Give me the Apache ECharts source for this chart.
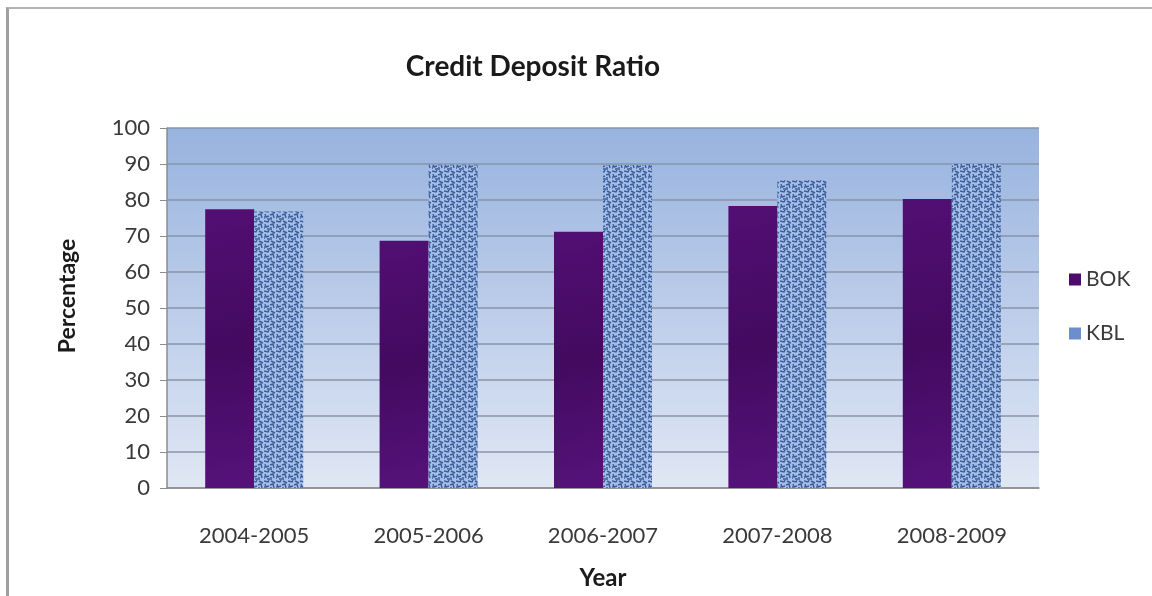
<!DOCTYPE html>
<html>
<head>
<meta charset="utf-8">
<script src="https://cdn.jsdelivr.net/npm/echarts@6/dist/echarts.min.js"></script>
<style>
  html, body { margin: 0; padding: 0; background: #fff; }
  #frame { position: absolute; left: 6px; top: 7px; width: 1146px; height: 589px;
           border-left: 3px solid #a0a0a0; border-top: 2px solid #b4b4b4; box-sizing: border-box; }
  #chart { position: absolute; left: 0; top: 0; width: 1152px; height: 596px; }
</style>
</head>
<body>
<div id="frame"></div>
<div id="chart"></div>
<script>
// chart data
var years = ['2004-2005', '2005-2006', '2006-2007', '2007-2008', '2008-2009'];
var bok = [77.4, 68.7, 71.2, 78.3, 80.3];
var kbl = [76.8, 89.8, 89.7, 85.5, 90.0];

// scribbled texture for the KBL bars
function makeTexture() {
  var c = document.createElement('canvas');
  c.width = 12; c.height = 10;
  var g = c.getContext('2d');
  g.fillStyle = '#a4bfe8';
  g.fillRect(0, 0, 12, 10);
  g.strokeStyle = '#3b5c98';
  g.lineWidth = 1.4;
  g.beginPath();
  g.moveTo(0, 1); g.lineTo(4, 2); g.lineTo(5, 0);
  g.moveTo(7, 1); g.lineTo(11, 3);
  g.moveTo(1, 4); g.lineTo(2, 7); g.lineTo(5, 6);
  g.moveTo(6, 5); g.lineTo(9, 4); g.lineTo(10, 8);
  g.moveTo(3, 9); g.lineTo(8, 9);
  g.stroke();
  g.fillStyle = '#5574b0';
  g.fillRect(6, 7, 2, 2);
  g.fillRect(0, 6, 1, 3);
  return c;
}

var font = 'Lato, "Open Sans", sans-serif';
var chart = echarts.init(document.getElementById('chart'));
chart.setOption({
  animation: false,
  textStyle: { fontFamily: font },
  title: {
    text: 'Credit Deposit Ratio',
    left: 528, top: 48, textAlign: 'center',
    textStyle: { fontSize: 28, fontWeight: 'bold', color: '#1a1a1a', fontFamily: font }
  },
  legend: {
    orient: 'vertical', left: 1064, top: 264, itemGap: 33,
    itemWidth: 12, itemHeight: 12, icon: 'rect',
    textStyle: { fontSize: 21, color: '#3a3a3a' },
    data: [
      { name: 'BOK', itemStyle: { color: '#4d0c6d' } },
      { name: 'KBL', itemStyle: { color: '#6d8dcc' } }
    ]
  },
  grid: {
    left: 167, right: 113, top: 128, bottom: 108, show: true, borderWidth: 0,
    backgroundColor: new echarts.graphic.LinearGradient(0, 0, 0, 1, [
      { offset: 0, color: '#98b3df' },
      { offset: 1, color: '#e0e7f4' }
    ])
  },
  xAxis: {
    type: 'category', data: years,
    name: 'Year', nameLocation: 'middle', nameGap: 78,
    nameTextStyle: { fontSize: 24, fontWeight: 'bold', color: '#1a1a1a' },
    axisLine: { lineStyle: { color: '#8c8c8c', width: 1.5 } },
    axisTick: { length: 8, lineStyle: { color: '#8c8c8c' } },
    axisLabel: { fontSize: 22, color: '#3a3a3a', margin: 37 }
  },
  yAxis: {
    type: 'value', min: 0, max: 100, interval: 10,
    name: 'Percentage', nameLocation: 'middle', nameGap: 88,
    nameTextStyle: { fontSize: 23, fontWeight: 'bold', color: '#1a1a1a',
                     padding: [0, 0, 0, 24] },
    axisLine: { show: true, lineStyle: { color: '#8c8c8c', width: 1.5 } },
    axisTick: { show: true, length: 7, lineStyle: { color: '#8c8c8c' } },
    axisLabel: { fontSize: 22, color: '#3a3a3a', margin: 17 },
    splitLine: { lineStyle: { color: '#8795aa', width: 1.5 } }
  },
  series: [
    {
      name: 'BOK', type: 'bar', data: bok, barWidth: 49, barGap: '0%',
      itemStyle: {
        color: new echarts.graphic.LinearGradient(0, 0, 1, 1, [
          { offset: 0, color: '#520f73' },
          { offset: 0.5, color: '#430a60' },
          { offset: 1, color: '#55137a' }
        ])
      }
    },
    {
      name: 'KBL', type: 'bar', data: kbl, barWidth: 49,
      itemStyle: { color: { image: makeTexture(), repeat: 'repeat' } }
    }
  ]
});
</script>
</body>
</html>
